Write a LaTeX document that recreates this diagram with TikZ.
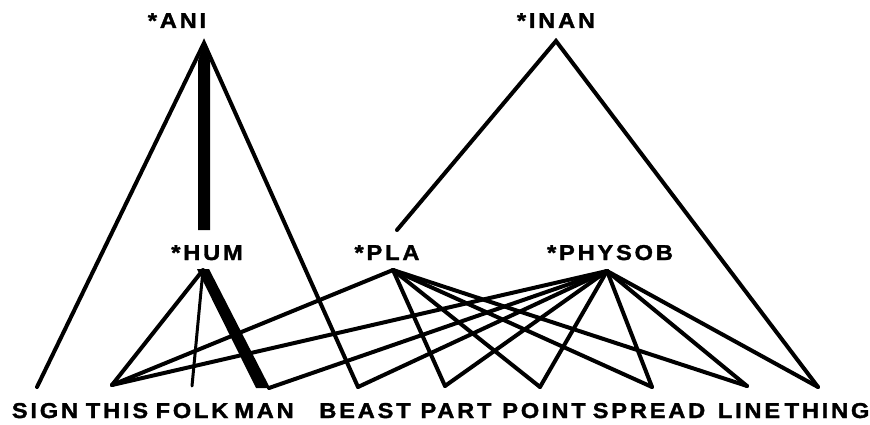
\documentclass[tikz,border=0pt]{standalone}
\usepackage{fontspec}
\usetikzlibrary{calc}
\newfontfamily\labfont[FakeStretch=1.1,FakeBold=1.6,LetterSpace=13]{Liberation Sans Bold}
\begin{document}
\begin{tikzpicture}[x=1pt,y=-1pt,
  lab/.style={font=\fontsize{21.5}{21.5}\labfont,
              inner sep=0pt, anchor=base},
  edge/.style={line width=4pt, line cap=round, line join=miter},
  heavy/.style={fill=black}]
\useasboundingbox (0,0) rectangle (870,425);

% category labels
\node[lab] (ani)    at (177,28)  {*ANI};
\node[lab] (inan)   at (556,28)  {*INAN};
\node[lab] (hum)    at (207,260) {*HUM};
\node[lab] (pla)    at (387,260) {*PLA};
\node[lab] (physob) at (610,260) {*PHYSOB};

% word labels
\node[lab] (wsign)   at (45,418)  {SIGN};
\node[lab] (wthis)   at (117,418) {THIS};
\node[lab] (wfolk)   at (192,418) {FOLK};
\node[lab] (wman)    at (264,418) {MAN};
\node[lab] (wbeast)  at (365,418) {BEAST};
\node[lab] (wpart)   at (456,418) {PART};
\node[lab] (wpoint)  at (544,418) {POINT};
\node[lab] (wspread) at (649,418) {SPREAD};
\node[lab] (wline)   at (749,418) {LINE};
\node[lab] (wthing)  at (827,418) {THING};

% vertices of the lattice
\coordinate (ani-v)  at (204,43);
\coordinate (inan-v) at (556,41);
\coordinate (hum-up) at (204,230);
\coordinate (pla-up) at (397,230);
\coordinate (hum-v)  at (203,270);
\coordinate (pla-v)  at (393,270);
\coordinate (phy-v)  at (607,271);

\coordinate (sign)   at (37,387);
\coordinate (this)   at (112,385);
\coordinate (folk)   at (192,386);
\coordinate (man)    at (269,388);
\coordinate (beast)  at (358,387);
\coordinate (part)   at (445,386);
\coordinate (point)  at (540,387);
\coordinate (spread) at (652,387);
\coordinate (line)   at (747,386);
\coordinate (thing)  at (818,387);

% *ANI
\draw[edge] (sign) -- (ani-v) -- (beast);
\fill[heavy] (ani-v) -- ($(ani-v)+(-6,18)$) -- ($(hum-up)+(-6,0)$)
             -- ($(hum-up)+(6,0)$) -- ($(ani-v)+(6,18)$) -- cycle;

% *INAN
\draw[edge] (pla-up) -- (inan-v) -- (thing);

% *HUM
\draw[edge] (this) -- (hum-v);
\draw[line width=3pt, line cap=round] (hum-v) -- (folk);
\fill[heavy] ($(hum-v)+(-6,-1)$) -- ($(hum-v)+(6,-1)$)
             -- ($(man)+(1,0)$) -- ($(man)+(-13,0)$) -- cycle;

% *PLA
\foreach \w in {this,part,point,spread,line}
  \draw[edge] (pla-v) -- (\w);

% *PHYSOB
\foreach \w in {this,man,beast,part,point,spread,line,thing}
  \draw[edge] (phy-v) -- (\w);
\end{tikzpicture}
\end{document}
